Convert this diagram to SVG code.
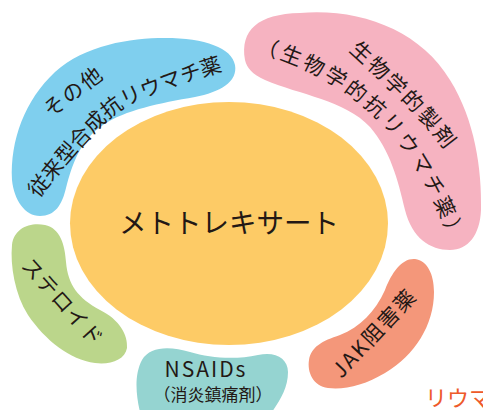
<svg xmlns="http://www.w3.org/2000/svg" width="483" height="410" viewBox="0 0 483 410">
<style>
.t{font-family:"Noto Sans CJK JP","Noto Sans",sans-serif;fill:#231815;font-size:21px;}
.blue{fill:#7fcfee}.pink{fill:#f6b3c1}.yellow{fill:#fdcb66}.green{fill:#bbd68b}.teal{fill:#95d4d1}.salmon{fill:#f4977a}
</style>
<defs>
<path id="pBlue" d="M39,198 C45.5,190 64.7,165.5 78,151 C91.3,136.5 104,121.3 119,111 C134,100.7 150.8,95.7 168,89 C185.2,82.3 213,74 222,71"/>
<path id="pPink1" d="M350,52 Q422,117 445,150"/>
<path id="pPink2" d="M258,53 C300,63 340,85 370,112 S428,180 451,243"/>
</defs>
<rect width="483" height="410" fill="#ffffff"/>
<g id="connectors"></g>
<g id="node-other">
<path class="blue" d="M40,216 C25,216 14,200 12,180 C10,140 25,100 55,72 C85,45 130,38 165,38 C205,38 232,48 235,65 C238,82 220,92 195,97 C160,103 125,110 103,125 C80,140 72,165 66,188 C62,205 55,216 40,216 Z"/>
<text class="t" transform="translate(78,97.5) rotate(-37)" text-anchor="middle" letter-spacing="2">その他</text>
<text class="t" letter-spacing="0"><textPath href="#pBlue" startOffset="50%" text-anchor="middle">従来型合成抗リウマチ薬</textPath></text>
</g>
<g id="node-bio">
<path class="pink" d="M245,60 C240,30 258,14 300,13 C360,8 420,30 450,80 C475,120 482,170 481,210 C480,235 468,250 450,250 C430,250 412,238 405,210 C398,180 390,150 370,127 C345,100 300,95 265,80 C252,74 247,68 245,60 Z"/>
<text class="t" letter-spacing="2.5"><textPath href="#pPink1" startOffset="50%" text-anchor="middle">生物学的製剤</textPath></text>
<text class="t" letter-spacing="3"><textPath href="#pPink2" startOffset="50%" text-anchor="middle">（生物学的抗リウマチ薬）</textPath></text>
</g>
<g id="node-mtx">
<ellipse class="yellow" cx="229" cy="223.5" rx="159" ry="121.5"/>
<text class="t" x="229" y="233" text-anchor="middle" style="font-size:27.5px">メトトレキサート</text>
</g>
<g id="node-steroid">
<path class="green" d="M12,245 C14,228 30,222 45,225 C60,228 65,245 66,262 C68,285 78,298 100,310 C120,320 128,335 127,348 C125,360 110,365 95,363 C70,360 45,340 28,315 C15,295 10,265 12,245 Z"/>
<text class="t" transform="translate(57,307) rotate(48)" text-anchor="middle" letter-spacing="1">ステロイド</text>
</g>
<g id="node-nsaids">
<path class="teal" d="M140,412 C136,395 134,375 142,360 C150,346 170,346 190,352 C210,358 235,360 258,355 C275,351 288,358 288,372 C288,388 280,400 272,412 Z"/>
<text class="t" x="206" y="377" text-anchor="middle" letter-spacing="2">NSAIDs</text>
<text class="t" x="213" y="401" text-anchor="middle" style="font-size:17px">（消炎鎮痛剤）</text>
</g>
<g id="node-jak">
<path class="salmon" d="M415,259 C428,261 434,275 434,292 C434,325 415,355 385,373 C365,385 345,390 328,388 C313,386 307,372 309,360 C311,347 322,341 340,335 C360,327 375,312 385,290 C392,272 402,258 415,259 Z"/>
<text class="t" transform="translate(380,338) rotate(-47)" text-anchor="middle" letter-spacing="2">JAK阻害薬</text>
</g>
<text x="425" y="405.5" style="font-family:'Noto Sans CJK JP',sans-serif;font-size:22px;fill:#ee5a2a">リウマ</text>
</svg>
